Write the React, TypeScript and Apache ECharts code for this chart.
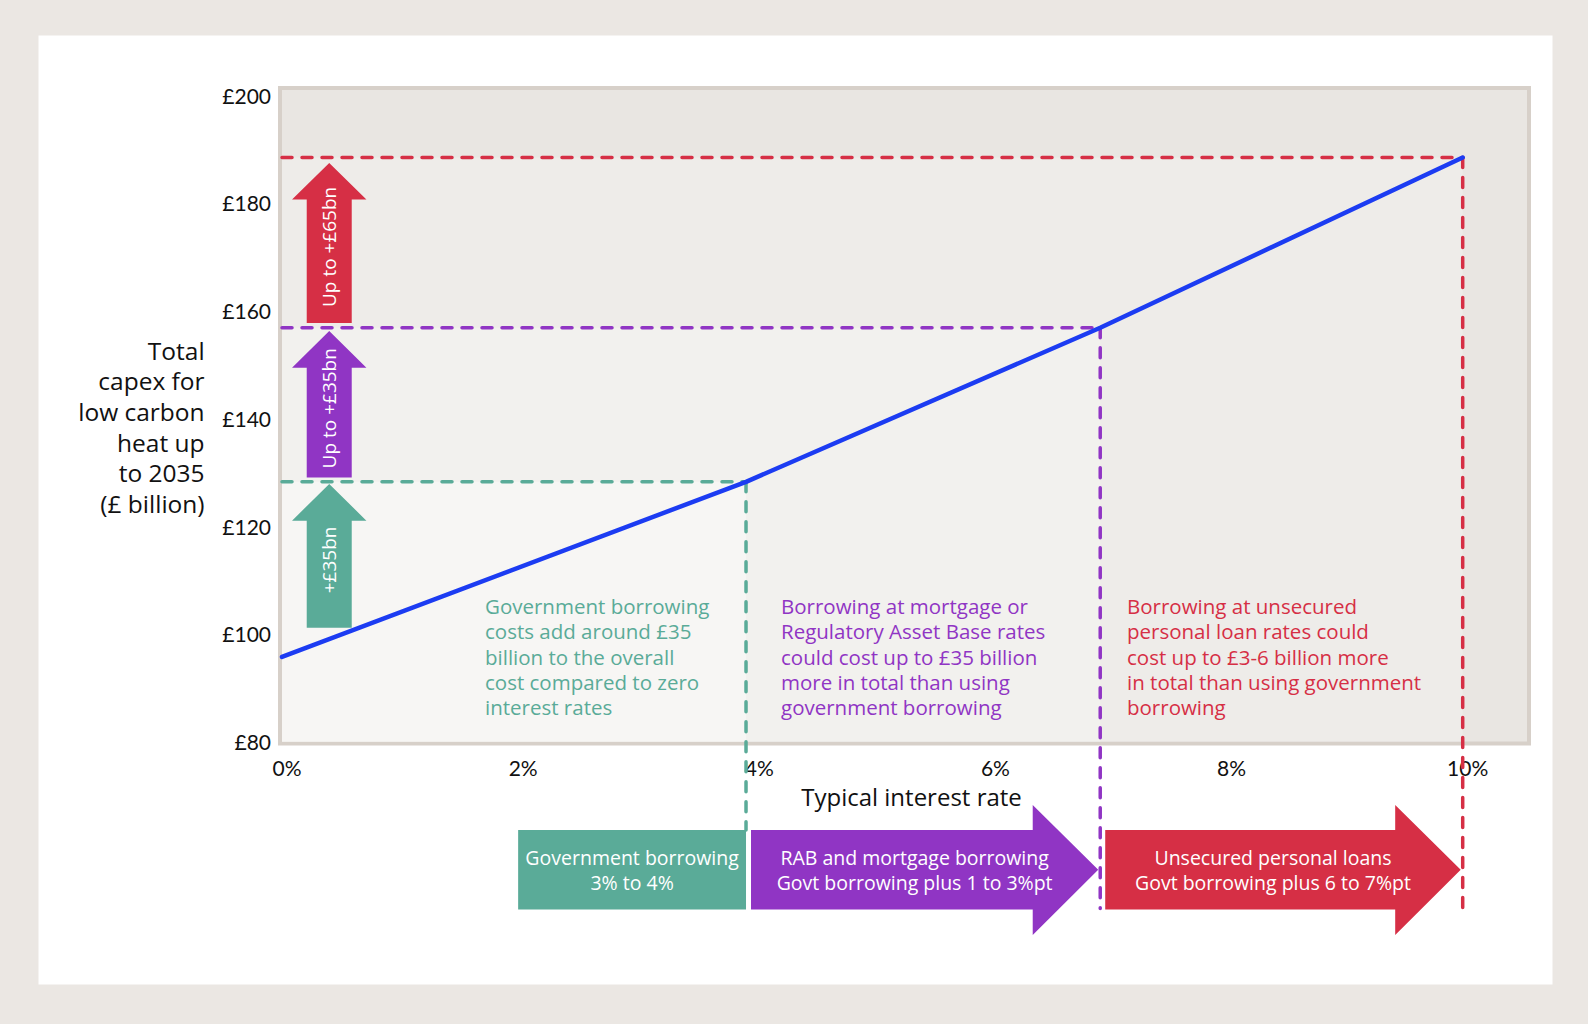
import React, { useEffect, useRef } from 'react';
import * as echarts from 'echarts';

// interest rate (%) and total capex (£bn) at each borrowing tier
const rates = [0, 3.93, 6.93, 10];
const capex = [95.7, 128.2, 156.8, 188.4];

const xTicks = [0, 2, 4, 6, 8, 10];
const yTicks = [80, 100, 120, 140, 160, 180, 200];

const tierColors = ['#5aab98', '#9035c4', '#d62f45'];
const bandFills = ['#f7f6f4', '#f2f1ee', '#eeece9'];

// vertical arrows in the plot
const arrowLabels = ['+£35bn', 'Up to +£35bn', 'Up to +£65bn'];
const arrowRate = 0.4;
const arrowFrom = [101.1, 129.0, 157.7];
const arrowTo = [127.8, 156.2, 187.4];

// horizontal tier arrows under the axis
const tierStart = [2, 3.93, 6.93];
const tierEnd = [3.93, 6.93, 10];
const tierTitles = [
  ['Government borrowing', '3% to 4%'],
  ['RAB and mortgage borrowing', 'Govt borrowing plus 1 to 3%pt'],
  ['Unsecured personal loans', 'Govt borrowing plus 6 to 7%pt'],
];

const notes = [
  ['Government borrowing', 'costs add around £35', 'billion to the overall', 'cost compared to zero', 'interest rates'],
  ['Borrowing at mortgage or', 'Regulatory Asset Base rates', 'could cost up to £35 billion', 'more in total than using', 'government borrowing'],
  ['Borrowing at unsecured', 'personal loan rates could', 'cost up to £3-6 billion more', 'in total than using government', 'borrowing'],
];

const yTitle = ['Total', 'capex for', 'low carbon', 'heat up', 'to 2035', '(£ billion)'];
const xTitle = 'Typical interest rate';

const FONT = '"Open Sans", Lato, sans-serif';
const TICK_FONT = 'Lato, "Open Sans", sans-serif';
const noteLeft = [485, 781, 1127];

export default function App() {
  const chartRef = useRef<HTMLDivElement>(null);

  useEffect(() => {
    const chart = echarts.init(chartRef.current, null, { renderer: 'svg' });

    const option = {
      animation: false,
      backgroundColor: '#ebe7e3',
      grid: { left: 282, top: 95, width: 1180.7, height: 646.5, containLabel: false },
      xAxis: {
        type: 'value',
        min: 0,
        max: 10,
        interval: 2,
        axisLine: { show: false },
        axisTick: { show: false },
        splitLine: { show: false },
        axisLabel: {
          margin: 15,
          fontSize: 21,
          color: '#111',
          fontFamily: TICK_FONT,
          padding: [0, 0, 0, 10],
          formatter: (v: number) => (xTicks.includes(v) ? v + '%' : ''),
        },
      },
      yAxis: {
        type: 'value',
        min: 80,
        max: 200,
        interval: 20,
        axisLine: { show: false },
        axisTick: { show: false },
        splitLine: { show: false },
        axisLabel: {
          margin: 11,
          fontSize: 21,
          color: '#111',
          fontFamily: TICK_FONT,
          formatter: (v: number) => (yTicks.includes(v) ? '£' + v : ''),
        },
      },
      graphic: [
        { type: 'rect', z: 0, shape: { x: 38.5, y: 35.4, width: 1514, height: 949 }, style: { fill: '#ffffff' } },
        {
          type: 'rect',
          z: 1,
          shape: { x: 280, y: 88, width: 1249, height: 655.5 },
          style: { fill: '#e9e6e2', stroke: '#d7d0c9', lineWidth: 4 },
        },
        {
          type: 'text',
          z: 100,
          x: 204.6,
          y: 335.1,
          style: {
            text: yTitle.join('\n'),
            fill: '#111',
            fontSize: 24.5,
            fontWeight: 500,
            lineHeight: 30.6,
            fontFamily: FONT,
            align: 'right',
            verticalAlign: 'top',
          },
        },
        {
          type: 'text',
          z: 100,
          x: 911.5,
          y: 796,
          style: {
            text: xTitle,
            fill: '#111',
            fontSize: 24,
            fontWeight: 500,
            fontFamily: FONT,
            align: 'center',
            verticalAlign: 'middle',
          },
        },
        ...notes.map((lines, i) => ({
          type: 'text',
          z: 100,
          x: noteLeft[i],
          y: 593.5,
          style: {
            text: lines.join('\n'),
            fill: tierColors[i],
            fontSize: 20.5,
            fontWeight: 500,
            lineHeight: 25.3,
            fontFamily: FONT,
            align: 'left',
            verticalAlign: 'top',
          },
        })),
      ],
      series: [
        {
          // nested shaded panels
          type: 'custom',
          z: 2,
          silent: true,
          data: [3, 2, 1].map((i) => [rates[i], capex[i], i]),
          renderItem: (params: any, api: any) => {
            const p0 = api.coord([0, 80]);
            const p1 = api.coord([api.value(0), api.value(1)]);
            return {
              type: 'rect',
              shape: { x: p0[0], y: p1[1], width: p1[0] - p0[0], height: p0[1] - p1[1] },
              style: { fill: bandFills[api.value(2) - 1] },
            };
          },
        },
        {
          // dashed guide lines
          type: 'custom',
          z: 3,
          silent: true,
          clip: false,
          data: [1, 2, 3].map((i) => [rates[i], capex[i], i]),
          renderItem: (params: any, api: any) => {
            const i = api.value(2);
            const pt = api.coord([api.value(0), api.value(1)]);
            const left = api.coord([0, api.value(1)]);
            const base = api.coord([api.value(0), 80]);
            const bottom = base[1] + (i === 1 ? 88.5 : 167);
            const style = { stroke: tierColors[i - 1], lineWidth: 3.5, lineDash: [10, 10], lineCap: 'round' };
            return {
              type: 'group',
              children: [
                { type: 'line', shape: { x1: left[0], y1: pt[1], x2: pt[0], y2: pt[1] }, style },
                { type: 'line', shape: { x1: pt[0], y1: pt[1], x2: pt[0], y2: bottom }, style },
              ],
            };
          },
        },
        {
          // up arrows with amounts
          type: 'custom',
          z: 4,
          silent: true,
          clip: false,
          data: arrowLabels.map((_, i) => [arrowRate, arrowFrom[i], arrowTo[i], i]),
          renderItem: (params: any, api: any) => {
            const i = api.value(3);
            const pb = api.coord([api.value(0), api.value(1)]);
            const pt = api.coord([api.value(0), api.value(2)]);
            const cx = pb[0];
            const hs = 22.5;
            const hh = 37.2;
            const hl = 36.7;
            return {
              type: 'group',
              children: [
                {
                  type: 'polygon',
                  shape: {
                    points: [
                      [cx - hs, pb[1]],
                      [cx - hs, pt[1] + hl],
                      [cx - hh, pt[1] + hl],
                      [cx, pt[1]],
                      [cx + hh, pt[1] + hl],
                      [cx + hs, pt[1] + hl],
                      [cx + hs, pb[1]],
                    ],
                  },
                  style: { fill: tierColors[i] },
                },
                {
                  type: 'text',
                  x: cx,
                  y: (pb[1] + pt[1]) / 2 + 4,
                  rotation: Math.PI / 2,
                  style: {
                    text: arrowLabels[i],
                    fill: '#ffffff',
                    fontSize: 19,
                    fontWeight: 500,
                    fontFamily: FONT,
                    align: 'center',
                    verticalAlign: 'middle',
                  },
                },
              ],
            };
          },
        },
        {
          // tier arrows below the axis
          type: 'custom',
          z: 4,
          silent: true,
          clip: false,
          data: tierTitles.map((_, i) => [tierStart[i], tierEnd[i], i]),
          renderItem: (params: any, api: any) => {
            const i = api.value(2);
            const a = api.coord([api.value(0), 80]);
            const b = api.coord([api.value(1), 80]);
            const x0 = a[0] + (i === 0 ? 0 : 5);
            const yTop = a[1] + 88.5;
            const yBot = a[1] + 168;
            let shape: any;
            let cx: number;
            if (i === 0) {
              shape = { type: 'rect', shape: { x: x0, y: yTop, width: b[0] - x0, height: yBot - yTop } };
              cx = (x0 + b[0]) / 2;
            } else {
              const tip = b[0] - 2;
              const hl = 65.5;
              shape = {
                type: 'polygon',
                shape: {
                  points: [
                    [x0, yTop],
                    [tip - hl, yTop],
                    [tip - hl, a[1] + 63.5],
                    [tip, (yTop + yBot) / 2],
                    [tip - hl, a[1] + 193.5],
                    [tip - hl, yBot],
                    [x0, yBot],
                  ],
                },
              };
              cx = (x0 + tip) / 2 - 10;
            }
            shape.style = { fill: tierColors[i] };
            return {
              type: 'group',
              children: [
                shape,
                {
                  type: 'text',
                  x: cx,
                  y: (yTop + yBot) / 2,
                  style: {
                    text: tierTitles[i].join('\n'),
                    fill: '#ffffff',
                    fontSize: 19.5,
                    fontWeight: 500,
                    lineHeight: 25,
                    fontFamily: FONT,
                    align: 'center',
                    verticalAlign: 'middle',
                  },
                },
              ],
            };
          },
        },
        {
          name: 'Total capex',
          type: 'line',
          z: 5,
          data: rates.map((r, i) => [r, capex[i]]),
          symbol: 'none',
          silent: true,
          lineStyle: { color: '#1c3cf2', width: 4.5, cap: 'round' },
        },
      ],
    };

    chart.setOption(option);
    return () => chart.dispose();
  }, []);

  return (
    <div style={{ position: 'fixed', left: 0, top: 0, width: 1588, height: 1024 }}>
      <div ref={chartRef} style={{ width: 1588, height: 1024 }} />
    </div>
  );
}
